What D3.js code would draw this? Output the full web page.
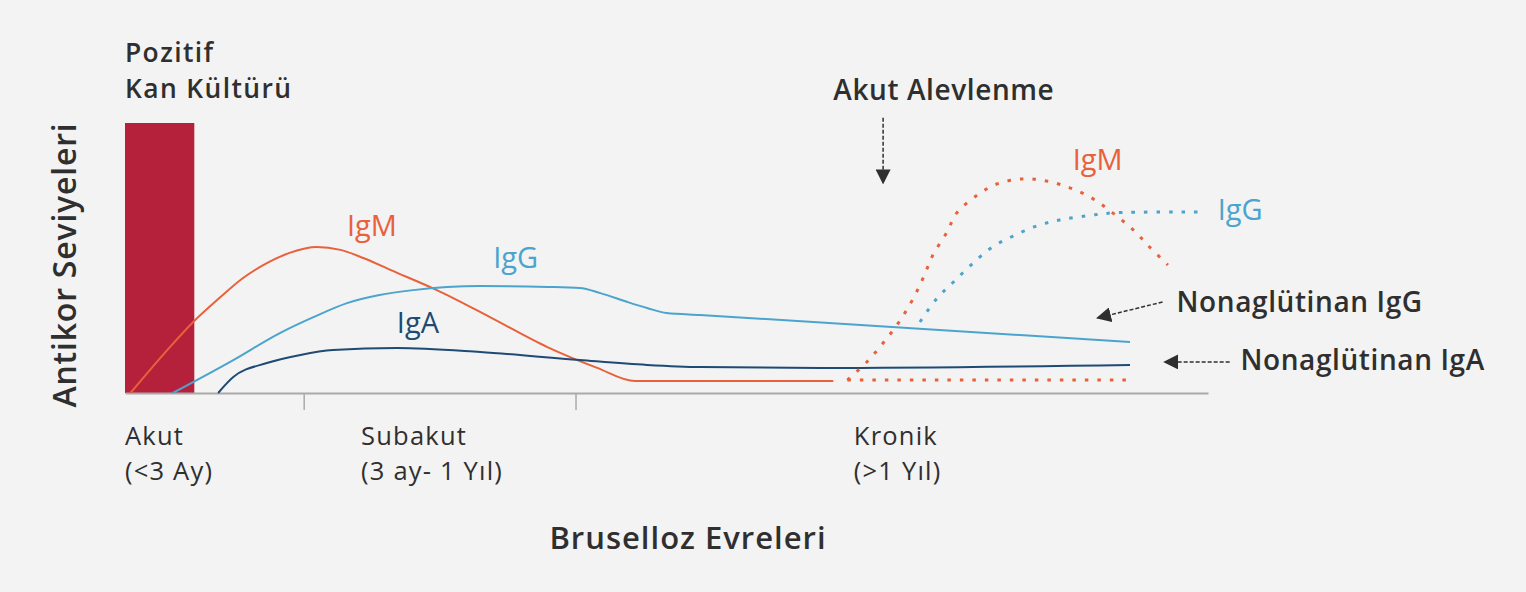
<!DOCTYPE html>
<html>
<head>
<meta charset="utf-8">
<script src="https://cdn.jsdelivr.net/npm/d3@7"></script>
<style>
  body { margin: 0; background: #f3f3f3; }
  svg text { font-family: "Open Sans", sans-serif; }
</style>
</head>
<body>
<div id="chart"></div>
<script>
// curves, x = time units (0-100 across the axis), y = relative antibody level
const igmSolid = [[0.5,0],[3.9,15.9],[6.3,26.3],[8.5,34.4],[10.9,42.6],[13.1,48.1],[15.2,51.9],[17.7,54.1],[19.9,53.0],[22.0,50.0],[24.5,45.6],[28.8,38.1],[33.7,28.1],[39.0,17.0],[43.6,9.3],[47.1,4.4],[65.4,4.4]];
const iggSolid = [[4.4,0],[10.0,12.2],[14.3,22.2],[17.4,28.1],[20.5,33.3],[23.5,36.3],[26.6,38.1],[32.8,39.6],[39.0,39.3],[42.0,38.9],[43.9,37.0],[46.4,33.7],[48.2,31.5],[50.0,29.6],[53.1,28.9],[92.8,18.9]];
const igaSolid = [[8.6,0],[10.0,5.9],[13.1,11.1],[16.2,14.1],[19.2,15.9],[25.1,16.7],[32.8,15.2],[42.0,12.2],[48.2,10.4],[53.1,9.6],[64.2,9.3],[92.8,10.4]];
const igmFlare = [[66.7,4.8],[68.5,11.5],[70.0,18.5],[71.4,25.9],[72.7,34.4],[73.7,42.6],[74.6,51.1],[75.9,59.6],[76.8,66.7],[78.7,73.3],[80.5,77.4],[82.9,79.3],[85.1,78.5],[87.3,75.9],[89.4,71.9],[91.2,66.7],[93.1,60.4],[94.6,54.1],[96.3,47.4]];
const igmFlat = [[66.7,4.8],[92.8,4.8]];
const iggFlare = [[73.4,26.3],[75.0,35.2],[76.5,41.1],[78.3,48.1],[80.1,54.1],[82.0,58.1],[84.2,61.9],[86.3,64.1],[88.8,65.6],[91.2,66.7],[99.3,67.0]];

const cultureBar = {x0: 0, x1: 6.4, level: 100};
const cultureTitle = ['Pozitif', 'Kan Kültürü'];

const tickSpots = [16.5, 41.6];
const stages = [
  {x: 0, lines: ['Akut', '(<3 Ay)']},
  {x: 21.8, lines: ['Subakut', '(3 ay- 1 Yıl)']},
  {x: 67.3, lines: ['Kronik', '(>1 Yıl)']}
];

const curveLabels = [
  {text: 'IgM', x: 20.5, y: 58.1, key: 'igm'},
  {text: 'IgG', x: 34.0, y: 46.3, key: 'igg'},
  {text: 'IgA', x: 25.1, y: 22.2, key: 'iga'},
  {text: 'IgM', x: 87.5, y: 82.6, key: 'igm'},
  {text: 'IgG', x: 100.9, y: 64.1, key: 'igg'}
];

const notes = [
  {text: 'Akut Alevlenme', x: 65.4, y: 108.5},
  {text: 'Nonaglütinan IgG', x: 97.1, y: 30.0},
  {text: 'Nonaglütinan IgA', x: 103.0, y: 8.5}
];
const arrows = [
  {from: [70.0, 101.9], to: [70.0, 77.8]},
  {from: [95.8, 33.7], to: [89.8, 27.8]},
  {from: [102.0, 11.5], to: [96.0, 11.5]}
];

const colors = {igm: '#e8613b', igg: '#4ba4cd', iga: '#1e4a74', bar: '#b5213b', text: '#2f2f2f'};

const width = 1526, height = 592;

const svg = d3.select('#chart')
  .append('svg')
  .attr('width', width)
  .attr('height', height)
  .style('background-color', '#f3f3f3');

const x = d3.scaleLinear().domain([0, 100]).range([125, 1208]);
const y = d3.scaleLinear().domain([0, 100]).range([393, 123]);

svg.append('defs').append('marker')
  .attr('id', 'head')
  .attr('viewBox', '0 0 10 10')
  .attr('refX', 9).attr('refY', 5)
  .attr('markerWidth', 15).attr('markerHeight', 15)
  .attr('markerUnits', 'userSpaceOnUse')
  .attr('orient', 'auto')
  .append('path')
  .attr('d', 'M0,0 L10,5 L0,10 Z')
  .attr('fill', colors.text);

// blood culture bar
svg.append('rect')
  .attr('x', x(cultureBar.x0))
  .attr('y', y(cultureBar.level))
  .attr('width', x(cultureBar.x1) - x(cultureBar.x0))
  .attr('height', y(0) - y(cultureBar.level))
  .attr('fill', colors.bar);

// axis
const xAxis = d3.axisBottom(x)
  .tickValues(tickSpots)
  .tickFormat('')
  .tickSize(17)
  .tickSizeOuter(0);

const axisG = svg.append('g')
  .attr('transform', 'translate(0,' + y(0) + ')')
  .call(xAxis);
axisG.select('.domain').attr('stroke', '#aaaaaa').attr('stroke-width', 2);
axisG.selectAll('.tick line').attr('stroke', '#aaaaaa').attr('stroke-width', 1.5);

const line = d3.line()
  .x(d => x(d[0]))
  .y(d => y(d[1]))
  .curve(d3.curveMonotoneX);

const series = [
  {pts: igmSolid, key: 'igm', dash: null},
  {pts: iggSolid, key: 'igg', dash: null},
  {pts: igaSolid, key: 'iga', dash: null},
  {pts: igmFlat, key: 'igm', dash: '3.5,9'},
  {pts: igmFlare, key: 'igm', dash: '3.5,9'},
  {pts: iggFlare, key: 'igg', dash: '3.5,9'}
];

svg.selectAll('path.curve')
  .data(series)
  .enter()
  .append('path')
  .attr('class', 'curve')
  .attr('d', d => d.dash ? d3.line().x(p => x(p[0])).y(p => y(p[1])).curve(d3.curveCatmullRom)(d.pts) : line(d.pts))
  .attr('fill', 'none')
  .attr('stroke', d => colors[d.key])
  .attr('stroke-width', d => d.dash ? 3 : 2)
  .attr('stroke-dasharray', d => d.dash);

// curve labels
svg.selectAll('text.curve-label')
  .data(curveLabels)
  .enter()
  .append('text')
  .attr('class', 'curve-label')
  .attr('x', d => x(d.x))
  .attr('y', d => y(d.y))
  .attr('fill', d => colors[d.key])
  .style('font-size', '29px')
  .text(d => d.text);

// annotation arrows
svg.selectAll('line.arrow')
  .data(arrows)
  .enter()
  .append('line')
  .attr('class', 'arrow')
  .attr('x1', d => x(d.from[0]))
  .attr('y1', d => y(d.from[1]))
  .attr('x2', d => x(d.to[0]))
  .attr('y2', d => y(d.to[1]))
  .attr('stroke', colors.text)
  .attr('stroke-width', 1.5)
  .attr('stroke-dasharray', '4,2')
  .attr('marker-end', 'url(#head)');

svg.selectAll('text.note')
  .data(notes)
  .enter()
  .append('text')
  .attr('class', 'note')
  .attr('x', d => x(d.x))
  .attr('y', d => y(d.y))
  .attr('fill', colors.text)
  .style('font-size', '28px')
  .style('letter-spacing', '0.6px')
  .style('font-weight', 600)
  .text(d => d.text);

// bar title, one text per line
svg.selectAll('text.bar-title')
  .data(cultureTitle)
  .enter()
  .append('text')
  .attr('class', 'bar-title')
  .attr('x', x(0))
  .attr('y', (d, i) => 62 + i * 36)
  .attr('fill', colors.text)
  .style('font-size', '26.4px')
  .style('letter-spacing', '1.4px')
  .style('font-weight', 600)
  .text(d => d);

// stage labels, one text per line
const stageLines = [];
stages.forEach(s => s.lines.forEach((t, i) => stageLines.push({t: t, x: s.x, row: i})));

svg.selectAll('text.stage')
  .data(stageLines)
  .enter()
  .append('text')
  .attr('class', 'stage')
  .attr('x', d => x(d.x))
  .attr('y', d => 445 + d.row * 35)
  .attr('fill', colors.text)
  .style('font-size', '25.5px')
  .style('letter-spacing', '1.2px')
  .text(d => d.t);

// axis titles
svg.append('text')
  .attr('x', 688)
  .attr('y', 549)
  .attr('text-anchor', 'middle')
  .attr('fill', colors.text)
  .style('font-size', '31px')
  .style('letter-spacing', '1px')
  .style('font-weight', 600)
  .text('Bruselloz Evreleri');

svg.append('text')
  .attr('transform', 'translate(76,' + 265 + ') rotate(-90)')
  .attr('text-anchor', 'middle')
  .attr('fill', colors.text)
  .style('font-size', '32px')
  .style('letter-spacing', '0.8px')
  .style('font-weight', 600)
  .text('Antikor Seviyeleri');
</script>
</body>
</html>
